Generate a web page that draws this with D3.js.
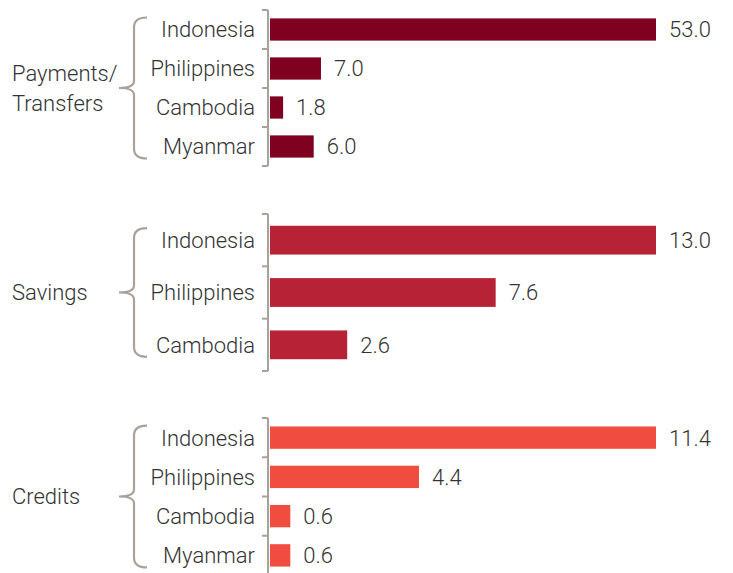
<!DOCTYPE html>
<html>
<head>
<meta charset="utf-8">
<script src="https://cdn.jsdelivr.net/npm/d3@7"></script>
<style>
  html, body { margin: 0; padding: 0; background: #fff; }
  svg text { font-family: Roboto, "Liberation Sans", sans-serif; font-weight: 300; fill: #333; }
</style>
</head>
<body>
<svg id="chart" width="733" height="573"></svg>
<script>
// ---- data ----
const groupNames = ["Payments/\nTransfers", "Savings", "Credits"];
const paymentsCountries = ["Indonesia", "Philippines", "Cambodia", "Myanmar"];
const paymentsValues = [53.0, 7.0, 1.8, 6.0];
const savingsCountries = ["Indonesia", "Philippines", "Cambodia"];
const savingsValues = [13.0, 7.6, 2.6];
const creditsCountries = ["Indonesia", "Philippines", "Cambodia", "Myanmar"];
const creditsValues = [11.4, 4.4, 0.6, 0.6];
const groupColors = ["#7f0020", "#b82236", "#f04c40"];

// ---- layout ----
const groups = [
  { name: groupNames[0], countries: paymentsCountries, values: paymentsValues, color: groupColors[0], y0: 10, y1: 166, barFrac: 0.57 },
  { name: groupNames[1], countries: savingsCountries, values: savingsValues, color: groupColors[1], y0: 214, y1: 371, barFrac: 0.55 },
  { name: groupNames[2], countries: creditsCountries, values: creditsValues, color: groupColors[2], y0: 418, y1: 575, barFrac: 0.57 }
];

const svg = d3.select("#chart");
const axisX = 268, barX0 = 270, barX1 = 656;
const braceColor = "#aaa29a";
const fontSize = 22;

groups.forEach(g => {
  const y = d3.scaleBand().domain(g.countries).range([g.y0, g.y1]).padding(0);
  const x = d3.scaleLinear().domain([0, d3.max(g.values)]).range([barX0, barX1]);
  const gg = svg.append("g");

  // axis line + ticks at band boundaries
  gg.append("line").attr("x1", axisX).attr("x2", axisX).attr("y1", g.y0).attr("y2", g.y1)
    .attr("stroke", braceColor).attr("stroke-width", 2);
  const bounds = g.countries.map(c => y(c)).concat([g.y1]);
  gg.selectAll("line.tick").data(bounds).join("line").attr("class", "tick")
    .attr("x1", axisX - 6).attr("x2", axisX).attr("y1", d => d).attr("y2", d => d)
    .attr("stroke", braceColor).attr("stroke-width", 2);

  const bh = y.bandwidth() * g.barFrac;
  gg.selectAll("rect").data(g.countries).join("rect")
    .attr("x", barX0)
    .attr("y", c => y(c) + (y.bandwidth() - bh) / 2)
    .attr("width", (c, i) => x(g.values[i]) - barX0)
    .attr("height", bh)
    .attr("fill", g.color);

  // value labels
  gg.selectAll("text.val").data(g.countries).join("text").attr("class", "val")
    .attr("x", (c, i) => x(g.values[i]) + 13)
    .attr("y", c => y(c) + y.bandwidth() / 2)
    .attr("dy", "0.36em")
    .attr("font-size", fontSize)
    .text((c, i) => d3.format(".1f")(g.values[i]));

  // category labels
  gg.selectAll("text.cat").data(g.countries).join("text").attr("class", "cat")
    .attr("x", 255)
    .attr("y", c => y(c) + y.bandwidth() / 2)
    .attr("dy", "0.36em")
    .attr("text-anchor", "end")
    .attr("font-size", fontSize)
    .text(c => c);

  // brace
  const first = g.countries[0], last = g.countries[g.countries.length - 1];
  const top = y(first) + y.bandwidth() / 2 - 12;
  const bot = y(last) + y.bandwidth() / 2 + 12;
  const mid = (top + bot) / 2;
  const bx = 134;
  const p = d3.path();
  p.moveTo(bx + 13, top);
  p.quadraticCurveTo(bx, top, bx, top + 10);
  p.lineTo(bx, mid - 7);
  p.quadraticCurveTo(bx, mid, bx - 15, mid);
  p.quadraticCurveTo(bx, mid, bx, mid + 7);
  p.lineTo(bx, bot - 10);
  p.quadraticCurveTo(bx, bot, bx + 13, bot);
  gg.append("path").attr("d", p.toString()).attr("fill", "none")
    .attr("stroke", braceColor).attr("stroke-width", 2.2);

  // group label
  const lines = g.name.split("\n");
  const lh = 30;
  const t = gg.append("text").attr("x", 12).attr("font-size", fontSize);
  lines.forEach((l, i) => {
    t.append("tspan").attr("x", 12)
      .attr("y", mid + (i - (lines.length - 1) / 2) * lh)
      .attr("dy", "0.36em").text(l);
  });
});
</script>
</body>
</html>
